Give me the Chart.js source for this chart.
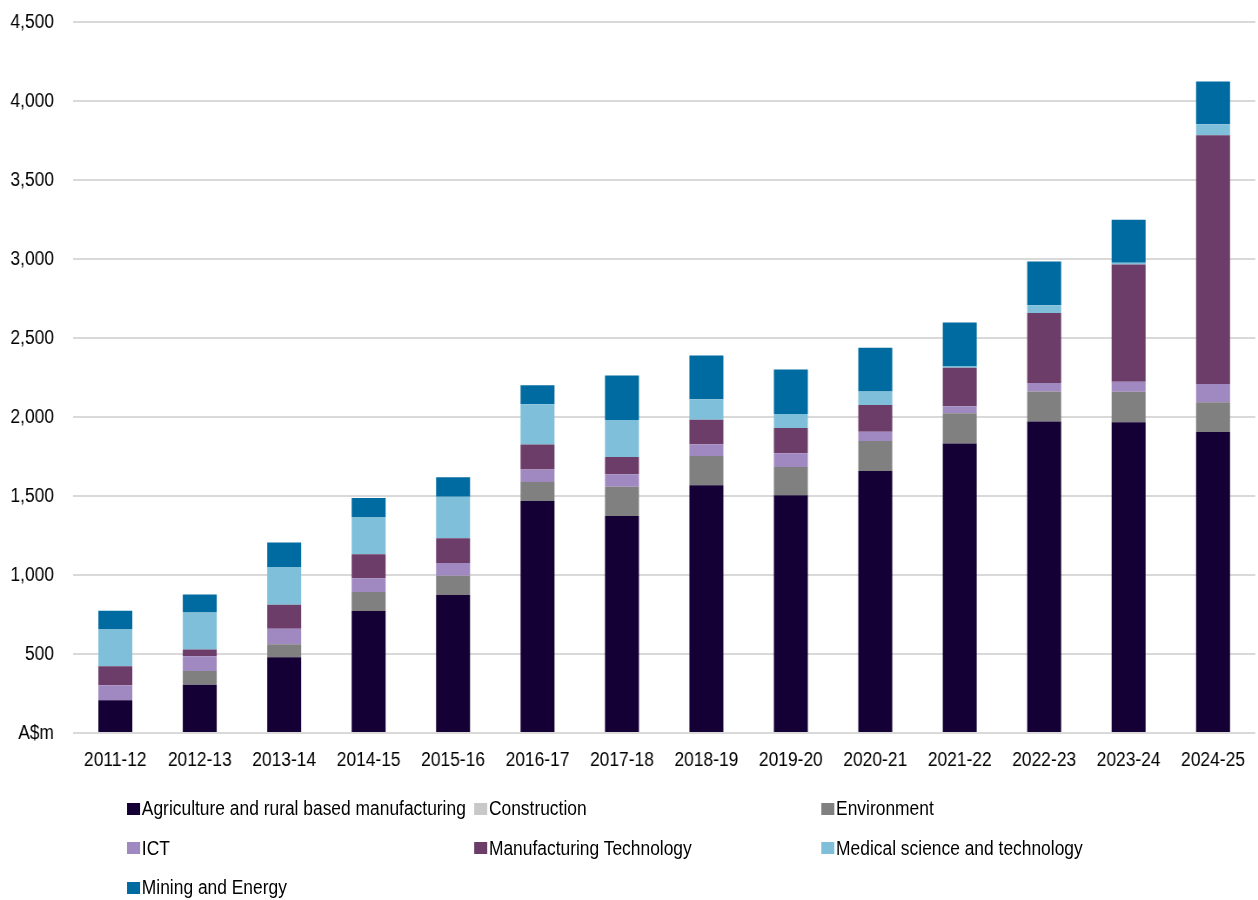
<!DOCTYPE html>
<html>
<head>
<meta charset="utf-8">
<script src="https://cdn.jsdelivr.net/npm/chart.js@4/dist/chart.umd.min.js"></script>
<style>
  body { margin: 0; background: #ffffff; }
  #wrap {
    position: relative;
    width: 1446px;
    height: 900px;
    transform: scaleX(0.87);
    transform-origin: 0 0;
    font-family: "Liberation Sans", Arial, sans-serif;
  }
  #chartBox { position: absolute; left: 0; top: 0; width: 1446px; height: 790px; }
  #legend {
    position: absolute;
    left: 146px;
    top: 789px;
    width: 1197px;
    display: grid;
    grid-template-columns: 399px 399px 399px;
    grid-auto-rows: 39.5px;
    font-size: 20px;
    color: #000;
  }
  .item { display: flex; align-items: center; white-space: nowrap; }
  .box { width: 15px; height: 12px; margin-right: 2px; flex: none; }
</style>
</head>
<body>
<div id="wrap">
  <div id="chartBox"><canvas id="myChart"></canvas></div>
  <div id="legend"></div>
</div>
<script>
// Chart data
var years = ["2011-12", "2012-13", "2013-14", "2014-15", "2015-16", "2016-17", "2017-18",
  "2018-19", "2019-20", "2020-21", "2021-22", "2022-23", "2023-24", "2024-25"];
var agriculture = [207, 306, 479, 772, 873, 1468, 1373, 1568, 1504, 1658, 1832, 1971, 1966, 1905];
var construction = [0, 0, 0, 0, 0, 0, 0, 0, 0, 0, 0, 0, 0, 0];
var environment = [0, 86, 82, 120, 123, 120, 186, 185, 179, 190, 192, 190, 194, 188];
var ict = [95, 93, 99, 87, 80, 80, 78, 74, 87, 59, 44, 54, 63, 116];
var manufacturing = [120, 44, 152, 152, 156, 158, 110, 156, 160, 169, 243, 443, 742, 1574];
var medical = [236, 234, 238, 236, 264, 255, 234, 129, 89, 85, 9, 49, 11, 70];
var mining = [116, 114, 156, 120, 122, 120, 281, 278, 281, 278, 278, 277, 272, 270];

var series = [
  { label: "Agriculture and rural based manufacturing", data: agriculture, color: "#150035" },
  { label: "Construction", data: construction, color: "#c8c8c8" },
  { label: "Environment", data: environment, color: "#808080" },
  { label: "ICT", data: ict, color: "#a088c0" },
  { label: "Manufacturing Technology", data: manufacturing, color: "#6c3d68" },
  { label: "Medical science and technology", data: medical, color: "#7fbfda" },
  { label: "Mining and Energy", data: mining, color: "#006ba0" },
];

var tickFont = { family: "'Liberation Sans', Arial, sans-serif", size: 20 };

var ctx = document.getElementById("myChart").getContext("2d");
var myChart = new Chart(ctx, {
  type: "bar",
  data: {
    labels: years,
    datasets: series.map(function (s) {
      return {
        label: s.label,
        data: s.data,
        backgroundColor: s.color,
        borderWidth: 0,
        categoryPercentage: 1,
        barPercentage: 0.402,
      };
    }),
  },
  options: {
    responsive: true,
    maintainAspectRatio: false,
    animation: false,
    layout: {
      padding: { top: 22, left: 12, right: 0, bottom: 18 },
    },
    plugins: {
      legend: { display: false },
      tooltip: { enabled: false },
    },
    scales: {
      x: {
        stacked: true,
        grid: { display: false, drawTicks: false },
        border: { display: false },
        ticks: { color: "#000000", padding: 15, maxRotation: 0, font: tickFont },
        afterFit: function (scale) {
          scale.height = 39;
        },
      },
      y: {
        stacked: true,
        min: 0,
        max: 4500,
        border: { display: false },
        // invisible tick marks keep the labels clear of the grid
        grid: { color: "#d9d9d9", lineWidth: 2, drawTicks: true, tickLength: 22, tickColor: "rgba(0,0,0,0)" },
        ticks: {
          stepSize: 500,
          color: "#000000",
          padding: 0,
          font: tickFont,
          callback: function (value) {
            return value === 0 ? "A$m" : value.toLocaleString("en-US");
          },
        },
        afterFit: function (scale) {
          scale.width = 72;
        },
      },
    },
  },
});

// legend in three columns
var legend = document.getElementById("legend");
series.forEach(function (s) {
  var item = document.createElement("div");
  item.className = "item";
  var box = document.createElement("span");
  box.className = "box";
  box.style.background = s.color;
  var text = document.createElement("span");
  text.textContent = s.label;
  item.appendChild(box);
  item.appendChild(text);
  legend.appendChild(item);
});
</script>
</body>
</html>
